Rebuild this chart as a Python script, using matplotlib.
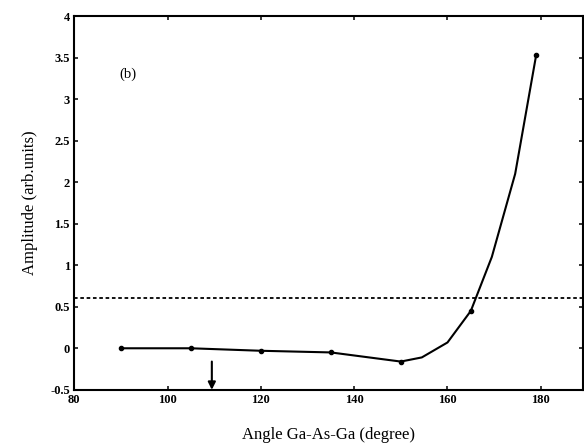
import numpy as np
import matplotlib
matplotlib.use('Agg')
import matplotlib.pyplot as plt

# data (b)
angle = [90, 105, 120, 135, 150, 154.5, 160, 165, 169.5, 174.5, 179]
amplitude = [0.0, 0.0, -0.03, -0.05, -0.16, -0.11, 0.07, 0.45, 1.1, 2.1, 3.53]
marked = [0, 1, 2, 3, 4, 7, 10]   # points drawn with a dot
threshold = 0.6
tetra_angle = 109.5

xticks = [80, 100, 120, 140, 160, 180]
yticks = [-0.5, 0, 0.5, 1, 1.5, 2, 2.5, 3, 3.5, 4]
ytick_labels = ['-0.5', '0', '0.5', '1', '1.5', '2', '2.5', '3', '3.5', '4']

plt.rcParams['font.family'] = ['Liberation Serif', 'DejaVu Serif']

fig = plt.figure(figsize=(5.84, 4.46), dpi=100)
ax = fig.add_axes([0.127, 0.126, 0.871, 0.838])

ax.plot(angle, amplitude, color='black', lw=1.5, marker='o', ms=3,
        markevery=marked)
ax.axhline(threshold, color='black', lw=1.3, ls=(0, (2, 1.5)))

# arrow marking the tetrahedral angle
ax.annotate('', xy=(tetra_angle, -0.5), xytext=(tetra_angle, -0.16),
            arrowprops=dict(arrowstyle='-|>', color='black', lw=1.5,
                            mutation_scale=11, shrinkA=0, shrinkB=0))

ax.text(91.5, 3.3, '(b)', fontsize=10.5, ha='center', va='center')

ax.set_xlim(80, 189)
ax.set_ylim(-0.5, 4)
ax.set_xticks(xticks)
ax.set_yticks(yticks)
ax.set_yticklabels(ytick_labels)
ax.tick_params(direction='in', top=True, right=True, length=3, width=1.1,
               labelsize=9, pad=3)
for lab in ax.get_xticklabels() + ax.get_yticklabels():
    lab.set_fontweight('bold')
for s in ax.spines.values():
    s.set_linewidth(1.5)

ax.set_xlabel('Angle Ga-As-Ga (degree)', fontsize=12, labelpad=15)
ax.set_ylabel('Amplitude (arb.units)', fontsize=12, labelpad=9)

fig.savefig('out.png', dpi=100)
